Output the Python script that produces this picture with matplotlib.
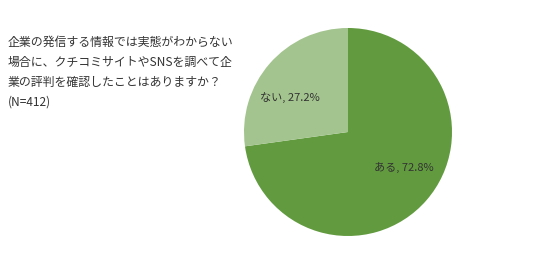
import matplotlib
matplotlib.use("Agg")
import matplotlib.pyplot as plt

plt.rcParams['font.family'] = ['Noto Sans CJK JP', 'DejaVu Sans']

# Data
categories = ['ある', 'ない']
shares = [72.8, 27.2]
colors = ['#629b3f', '#a3c48e']
title_lines = [
    '企業の発信する情報では実態がわからない',
    '場合に、クチコミサイトやSNSを調べて企',
    '業の評判を確認したことはありますか？',
    '(N=412)',
]

# label spots inside the pie (axes data units, pie radius = 1)
label_pos = [(0.54, -0.34), (-0.56, 0.33)]

fig = plt.figure(figsize=(5.36, 2.64), dpi=100)
cx, cy, r = 348, 132, 104
ax = fig.add_axes([(cx - r) / 536, (264 - cy - r) / 264, 2 * r / 536, 2 * r / 264])

labels = [f'{c}, {v}%' for c, v in zip(categories, shares)]
wedges, texts = ax.pie(shares, colors=colors, startangle=90, counterclock=False,
                       labels=labels, labeldistance=0.64,
                       textprops={'fontsize': 8, 'color': '#333333'})
for t, pos in zip(texts, label_pos):
    t.set_position(pos)
    t.set_ha('center')
    t.set_va('center')
ax.set_xlim(-1, 1)
ax.set_ylim(-1, 1)
ax.set_aspect('equal')

y = 42
for line in title_lines:
    fig.text(8 / 536, 1 - y / 264, line, fontsize=8.6, color='#333333', va='center', ha='left')
    y += 20

fig.savefig('out.png', dpi=100)
